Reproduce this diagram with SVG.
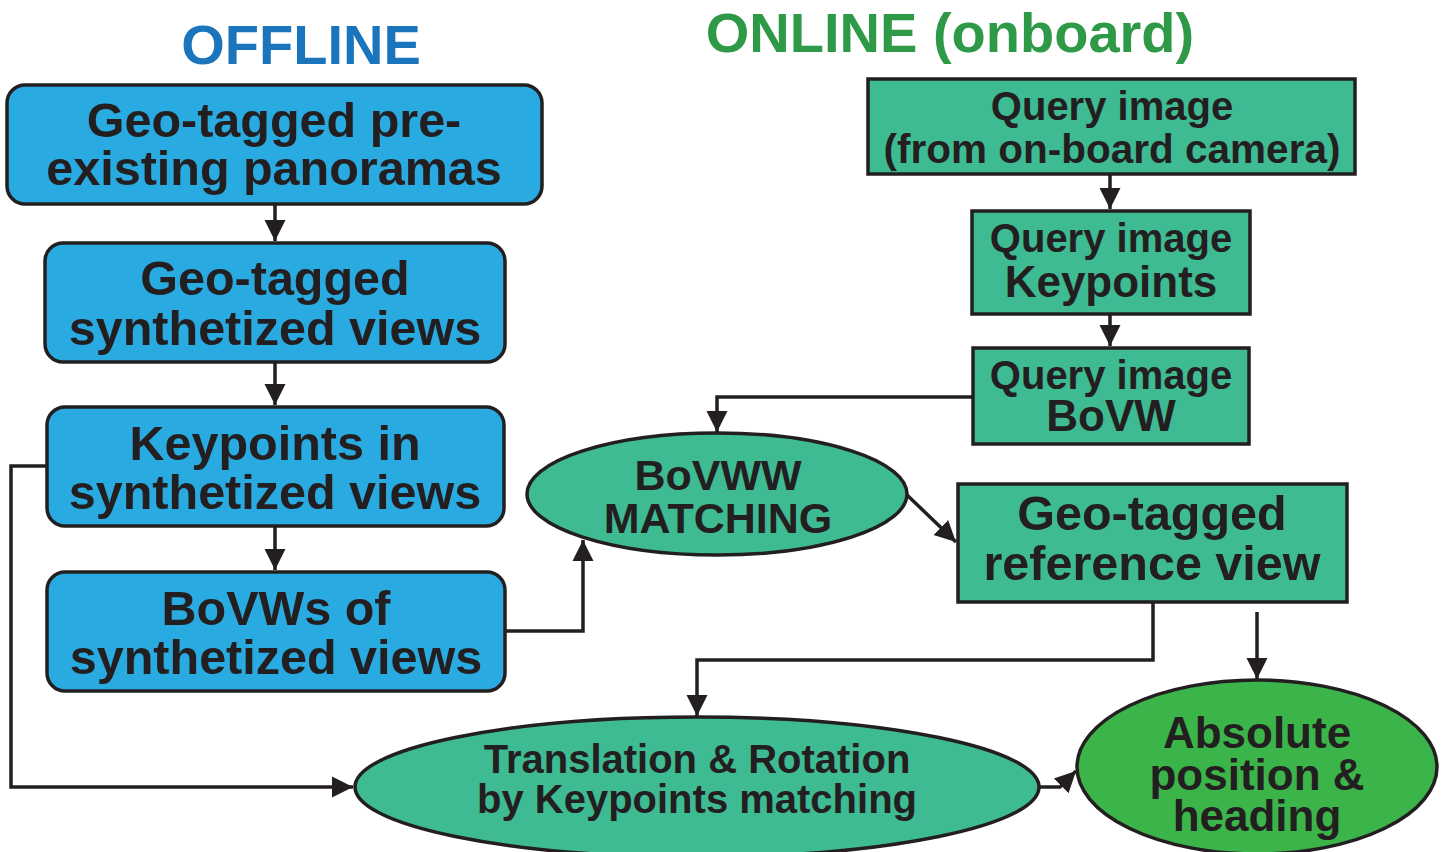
<svg xmlns="http://www.w3.org/2000/svg" width="1448" height="852" viewBox="0 0 1448 852">
<style>
.box{stroke:#231F20;stroke-width:3.5}
.blue{fill:#29ABE2}
.teal{fill:#3EBB93}
.green{fill:#3BB54A}
.t{font-family:"Liberation Sans",Arial,sans-serif;font-weight:bold;fill:#231F20;text-anchor:middle}
.conn{fill:none;stroke:#231F20;stroke-width:3.5}
</style>
<defs>
<marker id="ah" markerUnits="userSpaceOnUse" markerWidth="24" markerHeight="24" viewBox="0 0 24 24" refX="21" refY="12" orient="auto">
<path d="M0,1.5 L21,12 L0,22.5 Z" fill="#231F20"/>
</marker>
</defs>
<rect width="1448" height="852" fill="#ffffff"/>
<text class="t" x="301" y="64" font-size="56" style="fill:#1B75BC">OFFLINE</text>
<text class="t" x="950" y="52" font-size="56" style="fill:#2E9A48">ONLINE (onboard)</text>

<g id="connectors">
<path class="conn" d="M275,204 V241" marker-end="url(#ah)"/>
<path class="conn" d="M275,362 V405" marker-end="url(#ah)"/>
<path class="conn" d="M275,526 V570" marker-end="url(#ah)"/>
<path class="conn" d="M47,466 H11 V787 H353" marker-end="url(#ah)"/>
<path class="conn" d="M505,631 H583 V540" marker-end="url(#ah)"/>
<path class="conn" d="M973,397 H717 V432" marker-end="url(#ah)"/>
<path class="conn" d="M1110,174 V209" marker-end="url(#ah)"/>
<path class="conn" d="M1110,314 V346" marker-end="url(#ah)"/>
<path class="conn" d="M907,495 L956,542" marker-end="url(#ah)"/>
<path class="conn" d="M1153,602 V660 H697 V716" marker-end="url(#ah)"/>
<path class="conn" d="M1257,612 V679" marker-end="url(#ah)"/>
<path class="conn" d="M1039,787 H1060 L1076,771" marker-end="url(#ah)"/>
</g>

<g id="panoramas">
<rect class="box blue" x="7" y="85" width="535" height="119" rx="18"/>
<text class="t" x="274" y="137" font-size="48.5">Geo-tagged pre-</text>
<text class="t" x="274" y="185" font-size="48.5">existing panoramas</text>
</g>
<g id="synth-views">
<rect class="box blue" x="45" y="243" width="460" height="119" rx="18"/>
<text class="t" x="275" y="295" font-size="48.5">Geo-tagged</text>
<text class="t" x="275" y="345" font-size="48.5">synthetized views</text>
</g>
<g id="keypoints-synth">
<rect class="box blue" x="47" y="407" width="457" height="119" rx="18"/>
<text class="t" x="275" y="460" font-size="48.5">Keypoints in</text>
<text class="t" x="275" y="509" font-size="48.5">synthetized views</text>
</g>
<g id="bovws-synth">
<rect class="box blue" x="47" y="572" width="458" height="119" rx="18"/>
<text class="t" x="276" y="625" font-size="48.5">BoVWs of</text>
<text class="t" x="276" y="674" font-size="48.5">synthetized views</text>
</g>

<g id="query-image">
<rect class="box teal" x="868" y="79" width="487" height="95"/>
<text class="t" x="1112" y="120" font-size="40">Query image</text>
<text class="t" x="1112" y="163" font-size="40.5">(from on-board camera)</text>
</g>
<g id="query-keypoints">
<rect class="box teal" x="972" y="211" width="278" height="103"/>
<text class="t" x="1111" y="252" font-size="40">Query image</text>
<text class="t" x="1111" y="297" font-size="44">Keypoints</text>
</g>
<g id="query-bovw">
<rect class="box teal" x="973" y="348" width="276" height="96"/>
<text class="t" x="1111" y="389" font-size="40">Query image</text>
<text class="t" x="1111" y="431" font-size="44">BoVW</text>
</g>
<g id="bovww-matching">
<ellipse class="box teal" cx="717" cy="494" rx="190" ry="61"/>
<text class="t" x="718" y="490" font-size="43">BoVWW</text>
<text class="t" x="718" y="533" font-size="43">MATCHING</text>
</g>
<g id="reference-view">
<rect class="box teal" x="958" y="484" width="389" height="118"/>
<text class="t" x="1152" y="530" font-size="48.5">Geo-tagged</text>
<text class="t" x="1152" y="580" font-size="48.5">reference view</text>
</g>
<g id="translation-rotation">
<ellipse class="box teal" cx="697" cy="787" rx="342" ry="70"/>
<text class="t" x="697" y="773" font-size="40">Translation &amp; Rotation</text>
<text class="t" x="697" y="813" font-size="40">by Keypoints matching</text>
</g>
<g id="absolute-position">
<ellipse class="box green" cx="1257" cy="767" rx="180" ry="87"/>
<text class="t" x="1257" y="748" font-size="44">Absolute</text>
<text class="t" x="1257" y="790" font-size="44">position &amp;</text>
<text class="t" x="1257" y="831" font-size="44">heading</text>
</g>
</svg>
